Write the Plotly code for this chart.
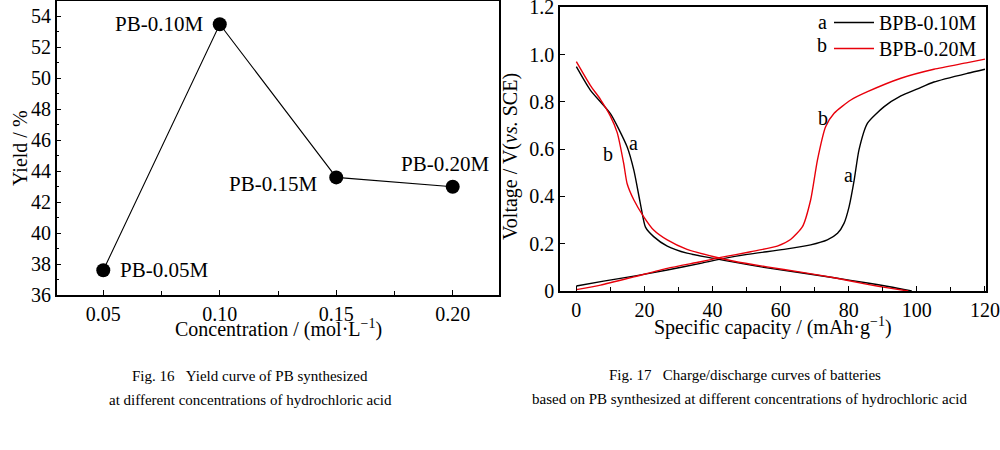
import plotly.graph_objects as go

# ---- Fig. 16 data ----
conc = [0.05, 0.10, 0.15, 0.20]
yield_pct = [37.6, 53.5, 43.6, 43.0]
point_labels = ["PB-0.05M", "PB-0.10M", "PB-0.15M", "PB-0.20M"]

# ---- Fig. 17 data (a: BPB-0.10M, b: BPB-0.20M) ----
a_dis_x = [0, 4.1, 10, 14.9, 16.9, 18.8, 20.3, 22.7, 26.7, 32.5, 40.4, 46.3, 56, 65.9, 75.7, 85.5, 92, 98.5]
a_dis_v = [0.949, 0.85, 0.75, 0.61, 0.51, 0.37, 0.27, 0.23, 0.19, 0.16, 0.138, 0.122, 0.098, 0.077, 0.056, 0.034, 0.018, 0.0]
a_chg_x = [0, 8, 16.9, 26.7, 36.5, 42.4, 50.2, 61, 68.8, 73.7, 76.7, 78.6, 80.1, 81.6, 83, 85.5, 90.4, 95.3, 100.2, 105, 114.9, 120]
a_chg_v = [0.021, 0.042, 0.063, 0.089, 0.117, 0.135, 0.155, 0.176, 0.195, 0.216, 0.244, 0.286, 0.357, 0.47, 0.597, 0.71, 0.78, 0.825, 0.855, 0.884, 0.921, 0.938]
b_dis_x = [0, 4.1, 7.1, 10, 12, 13.9, 14.9, 16.9, 19.8, 22.7, 26.7, 32.5, 40.4, 46.3, 56, 65.9, 75.7, 85.5, 92, 97.5]
b_dis_v = [0.97, 0.87, 0.81, 0.74, 0.67, 0.54, 0.455, 0.385, 0.314, 0.258, 0.216, 0.176, 0.145, 0.126, 0.102, 0.08, 0.056, 0.028, 0.012, 0.0]
b_chg_x = [0, 7.1, 16.9, 26.7, 36.5, 42.4, 51.2, 59, 62.9, 66.4, 68.8, 70.8, 73.2, 75.7, 80.6, 85.5, 95.3, 105, 114.9, 120]
b_chg_v = [0.006, 0.025, 0.06, 0.096, 0.124, 0.142, 0.166, 0.19, 0.218, 0.272, 0.385, 0.554, 0.695, 0.752, 0.808, 0.843, 0.9, 0.938, 0.966, 0.981]

left_yticks = [36, 38, 40, 42, 44, 46, 48, 50, 52, 54]
left_xticks = [0.05, 0.10, 0.15, 0.20]
left_xticktext = ["0.05", "0.10", "0.15", "0.20"]
right_yticks = [0, 0.2, 0.4, 0.6, 0.8, 1.0, 1.2]
right_yticktext = ["0", "0.2", "0.4", "0.6", "0.8", "1.0", "1.2"]
right_xticks = [0, 20, 40, 60, 80, 100, 120]

FONT = "Liberation Serif, Times New Roman, serif"
BLACK = "#000000"
RED = "#e8000b"

fig = go.Figure()

# Fig 16
fig.add_trace(go.Scatter(
    x=conc, y=yield_pct, mode="lines+markers",
    line=dict(color=BLACK, width=1.1),
    marker=dict(color=BLACK, size=14),
    xaxis="x", yaxis="y", showlegend=False, hoverinfo="x+y"))

# Fig 17
curve_style = dict(shape="spline", smoothing=0.6, width=1.4)
fig.add_trace(go.Scatter(x=a_dis_x, y=a_dis_v, mode="lines", name="BPB-0.10M",
                         line=dict(color=BLACK, **curve_style), xaxis="x2", yaxis="y2",
                         legend="legend", showlegend=True))
fig.add_trace(go.Scatter(x=a_chg_x, y=a_chg_v, mode="lines", name="BPB-0.10M",
                         line=dict(color=BLACK, **curve_style), xaxis="x2", yaxis="y2",
                         showlegend=False))
fig.add_trace(go.Scatter(x=b_dis_x, y=b_dis_v, mode="lines", name="BPB-0.20M",
                         line=dict(color=RED, **curve_style), xaxis="x2", yaxis="y2",
                         legend="legend2", showlegend=True))
fig.add_trace(go.Scatter(x=b_chg_x, y=b_chg_v, mode="lines", name="BPB-0.20M",
                         line=dict(color=RED, **curve_style), xaxis="x2", yaxis="y2",
                         showlegend=False))

axis_common = dict(showline=True, linecolor=BLACK, linewidth=1.5, mirror=True,
                   showgrid=False, zeroline=False, ticks="inside", tickcolor=BLACK,
                   tickwidth=1.2, ticklen=5, automargin=False, ticklabeloverflow="allow",
                   tickfont=dict(family=FONT, size=20, color=BLACK))

legend_common = dict(xanchor="left", yanchor="top", bgcolor="rgba(0,0,0,0)",
                     font=dict(family=FONT, size=20, color=BLACK), itemwidth=40,
                     borderwidth=0)

fig.update_layout(
    width=1000, height=450,
    margin=dict(l=0, r=0, t=0, b=0, autoexpand=False),
    paper_bgcolor="white", plot_bgcolor="white",
    font=dict(family=FONT, color=BLACK),
    xaxis=dict(domain=[0.0567, 0.4993], range=[0.03, 0.22], tickvals=left_xticks,
               ticktext=left_xticktext,
               minor=dict(dtick=0.025, tick0=0.025, ticks="inside", ticklen=4, tickcolor=BLACK),
               anchor="y", **axis_common),
    yaxis=dict(domain=[0.3444, 0.9978], range=[36, 55], tickvals=left_yticks,
               minor=dict(dtick=1, tick0=36, ticks="inside", ticklen=3, tickcolor=BLACK),
               anchor="x", **axis_common),
    xaxis2=dict(domain=[0.56, 0.986], range=[-4.8, 120.3], tickvals=right_xticks,
                minor=dict(dtick=10, tick0=10, ticks="inside", ticklen=4, tickcolor=BLACK),
                anchor="y2", **axis_common),
    yaxis2=dict(domain=[0.3533, 0.9838], range=[0, 1.2001], tickvals=right_yticks,
                ticktext=right_yticktext, anchor="x2", **axis_common),
    legend=dict(x=0.829, y=1 - 3 / 450, **legend_common),
    legend2=dict(x=0.829, y=1 - 29 / 450, **legend_common),
    showlegend=True,
)

ann = []
# point labels (fig 16)
label_offsets = [(15, 0, "left"), (-15, 0, "right"), (-17, -7, "right"), (-8, 23, "center")]
for xv, yv, txt, (dx, dy, anc) in zip(conc, yield_pct, point_labels, label_offsets):
    ann.append(dict(x=xv, y=yv, xref="x", yref="y", text=txt, showarrow=False,
                    xanchor=anc, yanchor="middle", xshift=dx, yshift=dy,
                    font=dict(family=FONT, size=21, color=BLACK)))
# curve labels (fig 17)
for xv, yv, txt in [(16.9, 0.625, "a"), (9.2, 0.58, "b"), (72.3, 0.73, "b"), (79.9, 0.49, "a")]:
    ann.append(dict(x=xv, y=yv, xref="x2", yref="y2", text=txt, showarrow=False,
                    xanchor="center", yanchor="middle",
                    font=dict(family=FONT, size=20, color=BLACK)))
# legend prefixes
for yy, txt in [(21.5, "a"), (45, "b")]:
    ann.append(dict(x=822 / 1000, y=1 - yy / 450, xref="paper", yref="paper", text=txt,
                    showarrow=False, xanchor="center", yanchor="middle",
                    font=dict(family=FONT, size=20, color=BLACK)))
# axis titles
ann.append(dict(x=0.278, y=1 - 328 / 450, xref="paper", yref="paper",
                text="Concentration / (mol·L<sup>−1</sup>)", showarrow=False,
                xanchor="center", yanchor="middle", font=dict(family=FONT, size=20, color=BLACK)))
ann.append(dict(x=20 / 1000, y=1 - 148 / 450, xref="paper", yref="paper",
                text="Yield / %", showarrow=False, textangle=-90,
                xanchor="center", yanchor="middle", font=dict(family=FONT, size=20, color=BLACK)))
ann.append(dict(x=0.773, y=1 - 326 / 450, xref="paper", yref="paper",
                text="Specific capacity / (mAh·g<sup>−1</sup>)", showarrow=False,
                xanchor="center", yanchor="middle", font=dict(family=FONT, size=20, color=BLACK)))
ann.append(dict(x=510 / 1000, y=1 - 157 / 450, xref="paper", yref="paper",
                text="Voltage / V(<i>vs.</i> SCE)", showarrow=False, textangle=-90,
                xanchor="center", yanchor="middle", font=dict(family=FONT, size=20, color=BLACK)))
# captions
captions = [
    (250, 376, "Fig. 16\u00a0\u00a0\u00a0Yield curve of PB synthesized"),
    (250, 400, "at different concentrations of hydrochloric acid"),
    (745, 375, "Fig. 17\u00a0\u00a0\u00a0Charge/discharge curves of batteries"),
    (750, 399, "based on PB synthesized at different concentrations of hydrochloric acid"),
]
for cx, cy, txt in captions:
    ann.append(dict(x=cx / 1000, y=1 - cy / 450, xref="paper", yref="paper", text=txt,
                    showarrow=False, xanchor="center", yanchor="middle",
                    font=dict(family=FONT, size=15, color=BLACK)))

fig.update_layout(annotations=ann)
fig.write_html("out.html", config={"displayModeBar": False},
               post_script="document.body.style.margin='0';document.body.style.overflow='hidden';")
